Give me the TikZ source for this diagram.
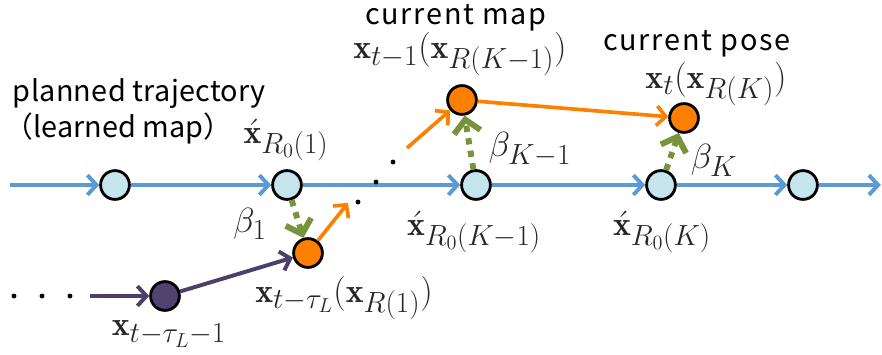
\documentclass[tikz,border=0pt]{standalone}
\usepackage{amsmath, amssymb}
\usepackage{fontspec}
\usepackage{xcolor}
\usepackage{tikz}
\usetikzlibrary{arrows.meta, calc, positioning}
\newfontfamily\jpfont{Noto Sans CJK JP}
\DeclareMathSizes{24}{24}{19.5}{15}
\definecolor{trajblue}{RGB}{91, 155, 213}
\definecolor{nodeblue}{RGB}{198, 228, 236}
\definecolor{poseorange}{RGB}{255, 128, 0}
\definecolor{betagreen}{RGB}{119, 147, 60}
\definecolor{pastpurple}{RGB}{76, 63, 106}
\definecolor{pastfill}{RGB}{80, 67, 112}

\begin{document}
\begin{tikzpicture}[
    >={Straight Barb[length=6.5pt, width=14pt]},
    wp/.style={circle, draw=black, line width=2pt, minimum size=0.72cm, inner sep=0pt},
    refnode/.style={wp, fill=nodeblue},
    posenode/.style={wp, fill=poseorange},
    pastnode/.style={wp, fill=pastfill},
    trajline/.style={->, trajblue, line width=2.8pt},
    poseline/.style={->, poseorange, line width=2.6pt},
    pastline/.style={->, pastpurple, line width=2.8pt},
    betaline/.style={-{Straight Barb[length=9pt, width=19pt]}, betagreen, line width=4.2pt,
      dash pattern=on 4.5pt off 4.5pt},
    lbl/.style={font=\jpfont\fontsize{20.5}{24}\selectfont},
    mlbl/.style={font=\fontsize{24}{28}\selectfont, black!85},
    blob/.style={circle, fill=black, inner sep=0pt, minimum size=3.5pt}
  ]

  \useasboundingbox (0, 0) rectangle (22.05, 8.85);

  \coordinate (start) at (0.25, 4.225);
  \coordinate (end)   at (22.02, 4.225);
  \coordinate (pstart) at (2.25, 1.45);
  \coordinate (o1tip) at (8.7, 3.775);
  \coordinate (o2tail) at (10.175, 5.15);

  % Reference trajectory
  \node[refnode] (r1) at (2.875, 4.225) {};
  \node[refnode] (r2) at (7.175, 4.225) {};
  \node[refnode] (r3) at (11.9, 4.225) {};
  \node[refnode] (r4) at (16.525, 4.225) {};
  \node[refnode] (r5) at (20.075, 4.225) {};

  % Poses
  \node[pastnode] (p0) at (4.125, 1.45) {};
  \node[posenode] (o1) at (7.7, 2.525) {};
  \node[posenode] (o2) at (11.55, 6.35) {};
  \node[posenode] (o3) at (17.1, 5.9) {};

  % Blue line
  \draw[trajline] (start) -- (r1);
  \draw[trajline] (r1) -- (r2);
  \draw[trajline] (r2) -- (r3);
  \draw[trajline] (r3) -- (r4);
  \draw[trajline] (r4) -- (r5);
  \draw[trajline] (r5) -- (end);

  % Purple and orange arrows
  \draw[pastline] (pstart) -- (p0);
  \draw[pastline] (p0) -- (o1);
  \draw[poseline] (o1) -- (o1tip);
  \draw[poseline] (o2tail) -- (o2);
  \draw[poseline] (o2) -- (o3);

  % Beta arrows
  \draw[betaline] (r2) -- (o1);
  \draw[betaline] (r3) -- (o2);
  \draw[betaline] (r4) -- (o3);

  % Dots
  \node[blob] (d1) at (8.95, 3.8) {};
  \node[blob] (d2) at (9.4, 4.3) {};
  \node[blob] (d3) at (9.825, 4.8) {};
  \node[blob] (e1) at (0.35, 1.45) {};
  \node[blob] (e2) at (1.05, 1.45) {};
  \node[blob] (e3) at (1.75, 1.45) {};

  % Text labels
  \node[lbl, anchor=west] (plan) at (0.2, 6.5) {\addfontfeature{LetterSpace=1}planned trajectory};
  \node[lbl, anchor=west] (learn) at (0.0, 5.65) {（learned map）};
  \node[lbl] (cmap) at (11.4, 8.4) {\addfontfeature{LetterSpace=6}current map};
  \node[lbl] (cpose) at (17.42, 7.75) {\addfontfeature{LetterSpace=6}current pose};

  % Math labels
  \node[mlbl] (lo2) at (11.5, 7.5) {$\mathbf{x}_{t-1}(\mathbf{x}_{R(K-1)})$};
  \node[mlbl] (lo3) at (17.9, 6.75) {$\mathbf{x}_{t}(\mathbf{x}_{R(K)})$};
  \node[mlbl] (lr2) at (7.15, 5.35) {$\acute{\mathbf{x}}_{R_0(1)}$};
  \node[mlbl] (lr3) at (11.85, 3.05) {$\acute{\mathbf{x}}_{R_0(K-1)}$};
  \node[mlbl] (lr4) at (16.55, 3.05) {$\acute{\mathbf{x}}_{R_0(K)}$};
  \node[mlbl] (lb1) at (6.25, 3.25) {$\beta_1$};
  \node[mlbl] (lb2) at (13.25, 5.1) {$\beta_{K-1}$};
  \node[mlbl] (lb3) at (17.85, 4.85) {$\beta_K$};
  \node[mlbl] (lo1) at (8.6, 1.4) {$\mathbf{x}_{t-\tau_L}(\mathbf{x}_{R(1)})$};
  \node[mlbl] (lp0) at (4.225, 0.5) {$\mathbf{x}_{t-\tau_L-1}$};

\end{tikzpicture}
\end{document}
